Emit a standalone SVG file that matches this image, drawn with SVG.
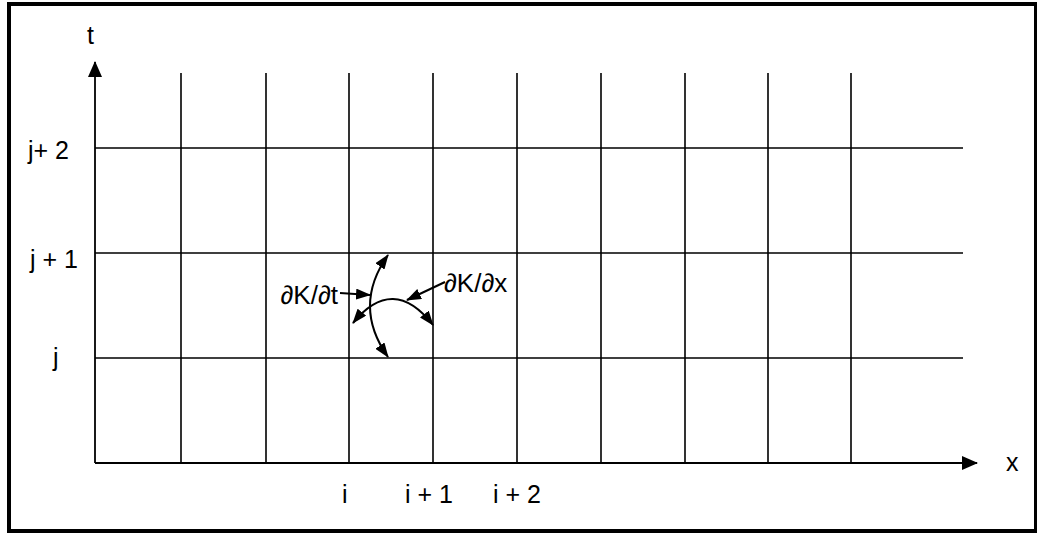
<svg xmlns="http://www.w3.org/2000/svg" width="1037" height="533" viewBox="0 0 1037 533">
<style>
.grid{stroke:#000;stroke-width:1.6;fill:none}
.axis{stroke:#000;stroke-width:1.8;fill:none}
.arc{stroke:#000;stroke-width:2;fill:none}
text{font-family:"Liberation Sans",Arial,sans-serif;font-size:25px;fill:#000}
.deriv{font-size:26px}
</style>
<defs>
<marker id="axhead" viewBox="0 0 16 14" refX="15" refY="7" markerWidth="16" markerHeight="14" markerUnits="userSpaceOnUse" orient="auto">
<path d="M0,0 L16,7 L0,14 Z" fill="#000"/>
</marker>
<marker id="head" viewBox="0 0 15 11" refX="14" refY="5.5" markerWidth="15" markerHeight="11" markerUnits="userSpaceOnUse" orient="auto-start-reverse">
<path d="M0,0 L15,5.5 L0,11 Z" fill="#000"/>
</marker>
</defs>
<rect id="frame" x="9" y="4" width="1027" height="527" fill="#fff" stroke="#000" stroke-width="4"/>
<g id="grid">
<path class="grid" d="M181,73V463M266,73V463M349,73V463M433,73V463M517,73V463M601,73V463M685,73V463M768,73V463M851,73V463"/>
<path class="grid" d="M95,148H963M95,253H963M95,358H963"/>
</g>
<g id="axes">
<path class="axis" d="M95,463V62" marker-end="url(#axhead)"/>
<path class="axis" d="M95,463H977" marker-end="url(#axhead)"/>
</g>
<g id="labels">
<text x="87" y="44">t</text>
<text x="1006" y="471">x</text>
<text x="28" y="159">j+ 2</text>
<text x="30" y="268">j + 1</text>
<text x="53" y="366">j</text>
<text x="342" y="503">i</text>
<text x="405" y="503">i + 1</text>
<text x="493" y="503">i + 2</text>
<text id="dKdt" class="deriv" x="338" y="304" text-anchor="end">∂K/∂t</text>
<text id="dKdx" class="deriv" x="444" y="292">∂K/∂x</text>
</g>
<g id="connectors">
<path class="arc" d="M388,255 Q352,306 388,357" marker-start="url(#head)" marker-end="url(#head)"/>
<path class="arc" d="M353,323 Q393,274 433,325" marker-start="url(#head)" marker-end="url(#head)"/>
<path class="arc" d="M340,293 L370,295" marker-end="url(#head)"/>
<path class="arc" d="M445,282 L407,300" marker-end="url(#head)"/>
</g>
</svg>
